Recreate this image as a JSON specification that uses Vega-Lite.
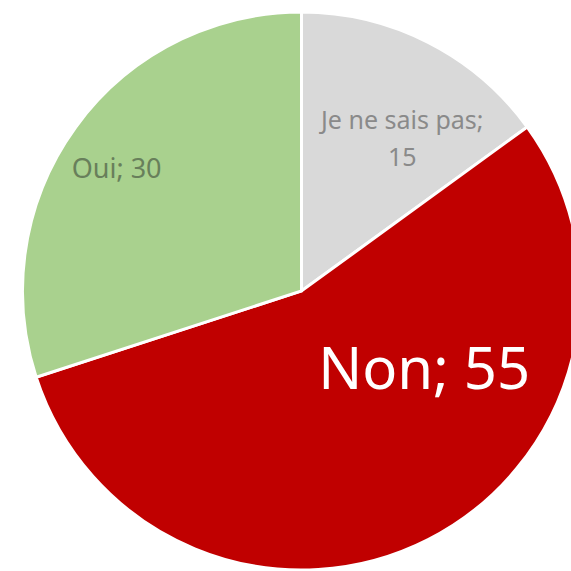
{
  "$schema": "https://vega.github.io/schema/vega-lite/v6.json",
  "width": 603,
  "height": 582,
  "autosize": {"type": "none"},
  "padding": 0,
  "background": "white",
  "config": {"view": {"stroke": null}},
  "data": {
    "values": [
      {"cat": "Je ne sais pas", "value": 15, "label": ["Je ne sais pas;", "15"]},
      {"cat": "Non", "value": 55, "label": ["Non; 55"]},
      {"cat": "Oui", "value": 30, "label": ["Oui; 30"]}
    ]
  },
  "layer": [
    {
      "mark": {"type": "arc", "radius": 279, "stroke": "white", "strokeWidth": 3},
      "encoding": {
        "theta": {"field": "value", "type": "quantitative", "stack": true},
        "color": {
          "field": "cat",
          "type": "nominal",
          "scale": {"domain": ["Je ne sais pas", "Non", "Oui"], "range": ["#d9d9d9", "#c00000", "#a9d18e"]},
          "legend": null
        },
        "order": {"field": "cat", "sort": "ascending"}
      }
    },
    {
      "transform": [{"filter": "datum.cat === 'Je ne sais pas'"}],
      "mark": {"type": "text", "theta": 0.534, "radius": 198, "font": "Noto Sans", "fontSize": 25, "lineHeight": 37, "color": "#8a8a8a", "align": "center", "baseline": "middle"},
      "encoding": {"text": {"field": "label"}}
    },
    {
      "transform": [{"filter": "datum.cat === 'Oui'"}],
      "mark": {"type": "text", "theta": 5.292, "radius": 221, "font": "Noto Sans", "fontSize": 27, "color": "#687f5b", "align": "center", "baseline": "middle"},
      "encoding": {"text": {"field": "label"}}
    },
    {
      "transform": [{"filter": "datum.cat === 'Non'"}],
      "mark": {"type": "text", "theta": 2.154, "radius": 147, "font": "Noto Sans", "fontSize": 58, "color": "white", "align": "center", "baseline": "middle"},
      "encoding": {"text": {"field": "label"}}
    }
  ]
}
